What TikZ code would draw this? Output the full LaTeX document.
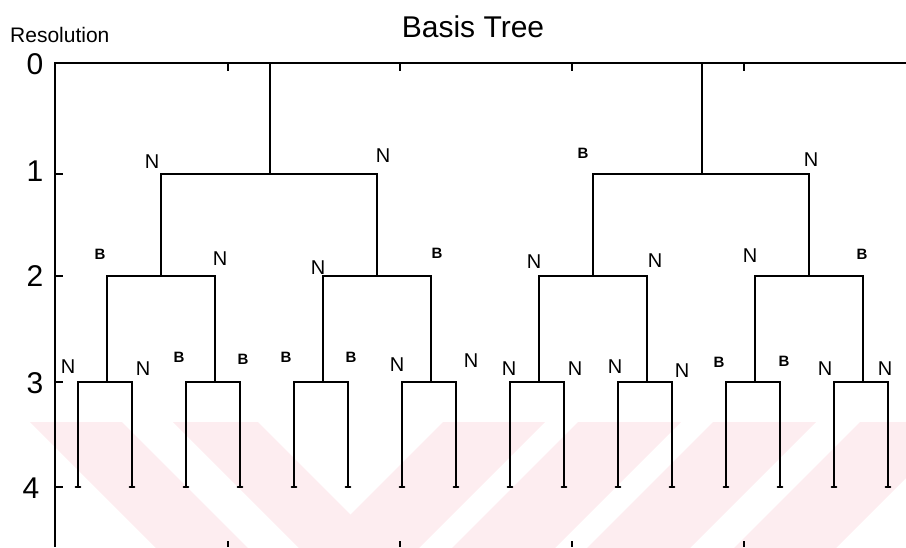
\documentclass[tikz,border=0pt]{standalone}
\usepackage{fontspec}
\setmainfont{Liberation Sans}
\definecolor{wmpink}{RGB}{253,237,240}
\tikzset{
  frame/.style={line width=1.9pt, black},
  tick/.style={line width=1.5pt, black},
  branch/.style={line width=2.2pt, black, line join=miter},
  foot/.style={line width=1.6pt, black, line cap=round},
  lvl/.style={font=\fontsize{30}{30}\selectfont, inner sep=0pt},
  tagN/.style={font=\fontsize{20}{20}\selectfont, inner sep=0pt},
  tagB/.style={font=\bfseries\fontsize{15}{15}\selectfont, inner sep=0pt},
}
\begin{document}
\begin{tikzpicture}[x=1pt,y=-1pt]
\useasboundingbox (0,0) rectangle (906,547);

% light diagonal stripes in the lower band
\begin{scope}
  \clip (0,422) rectangle (906,547);
  \foreach \a/\b in {30/122,173/258}
    \fill[wmpink] (\a,422) -- (\b,422) -- (\b+140,562) -- (\a+140,562) -- cycle;
  \foreach \a/\b in {443/545,578/681,713/816,860/962}
    \fill[wmpink] (\a,422) -- (\b,422) -- (\b-140,562) -- (\a-140,562) -- cycle;
\end{scope}

% axes frame
\coordinate (tl) at (55,63);
\coordinate (tr) at (906,63);
\coordinate (bl) at (55,547);
\draw[frame] (tr) -- (tl) -- (bl);

% ticks on top and bottom edges
\foreach \x in {228,400,572,744} {
  \coordinate (tt\x) at (\x,63);
  \coordinate (tb\x) at (\x,71);
  \coordinate (bt\x) at (\x,541);
  \coordinate (bb\x) at (\x,547);
  \draw[tick] (tt\x) -- (tb\x);
  \draw[tick] (bt\x) -- (bb\x);
}

% resolution ticks and numbers
\foreach \v/\y in {1/174,2/276,3/382,4/487} {
  \coordinate (ya\v) at (55,\y);
  \coordinate (yb\v) at (63,\y);
  \draw[tick] (ya\v) -- (yb\v);
}
\node[lvl] (lv0) at (35,64) {0};
\node[lvl] (lv1) at (35,171) {1};
\node[lvl] (lv2) at (35,276) {2};
\node[lvl] (lv3) at (35,383) {3};
\node[lvl] (lv4) at (31,488) {4};

\node[font=\fontsize{21}{21}\selectfont, inner sep=0pt, anchor=base west] (reslabel) at (10,42) {Resolution};
\node[font=\fontsize{30}{30}\selectfont, inner sep=0pt, anchor=base] (title) at (473,37) {Basis Tree};

% leaves (resolution 4)
\foreach \i in {0,...,15} {
  \pgfmathsetmacro\lx{78+54*\i}
  \coordinate (t4-\i) at (\lx,382);
  \coordinate (j4-\i) at (\lx,487);
  \coordinate (fl4-\i) at (\lx-2.5,487);
  \coordinate (fr4-\i) at (\lx+2.5,487);
}
% resolution 3 nodes
\foreach \k in {0,...,7} {
  \pgfmathsetmacro\nx{107+108*\k}
  \coordinate (t3-\k) at (\nx,276);
  \coordinate (j3-\k) at (\nx,382);
}
% resolution 2 nodes
\foreach \m in {0,...,3} {
  \pgfmathsetmacro\nx{161+216*\m}
  \coordinate (t2-\m) at (\nx,174);
  \coordinate (j2-\m) at (\nx,276);
}
% resolution 1 nodes
\foreach \n in {0,1} {
  \pgfmathsetmacro\nx{270+432*\n}
  \coordinate (t1-\n) at (\nx,63);
  \coordinate (j1-\n) at (\nx,174);
}

% branches: each parent stem plus the bracket joining its two children
\foreach \n in {0,1} {
  \pgfmathtruncatemacro\ca{2*\n}
  \pgfmathtruncatemacro\cb{2*\n+1}
  \draw[branch] (t1-\n) -- (j1-\n);
  \draw[branch] (j2-\ca) -- (t2-\ca) -- (t2-\cb) -- (j2-\cb);
}
\foreach \m in {0,...,3} {
  \pgfmathtruncatemacro\ca{2*\m}
  \pgfmathtruncatemacro\cb{2*\m+1}
  \draw[branch] (j3-\ca) -- (t3-\ca) -- (t3-\cb) -- (j3-\cb);
}
\foreach \k in {0,...,7} {
  \pgfmathtruncatemacro\ca{2*\k}
  \pgfmathtruncatemacro\cb{2*\k+1}
  \draw[branch] (j4-\ca) -- (t4-\ca) -- (t4-\cb) -- (j4-\cb);
}
\foreach \i in {0,...,15}
  \draw[foot] (fl4-\i) -- (fr4-\i);

% node labels
\foreach \x/\y [count=\c] in {152/162,383/156,811/160,
    220/259,318/268,534/262,655/261,750/256,
    68/367,143/369,397/365,471/361,509/369,575/369,615/367,682/371,825/369,885/369}
  \node[tagN] (labN\c) at (\x,\y) {N};
\foreach \x/\y [count=\c] in {583/153,
    100/254,437/253,862/254,
    179/357,243/359,286/357,351/357,719/362,784/361}
  \node[tagB] (labB\c) at (\x,\y) {B};
\end{tikzpicture}
\end{document}
